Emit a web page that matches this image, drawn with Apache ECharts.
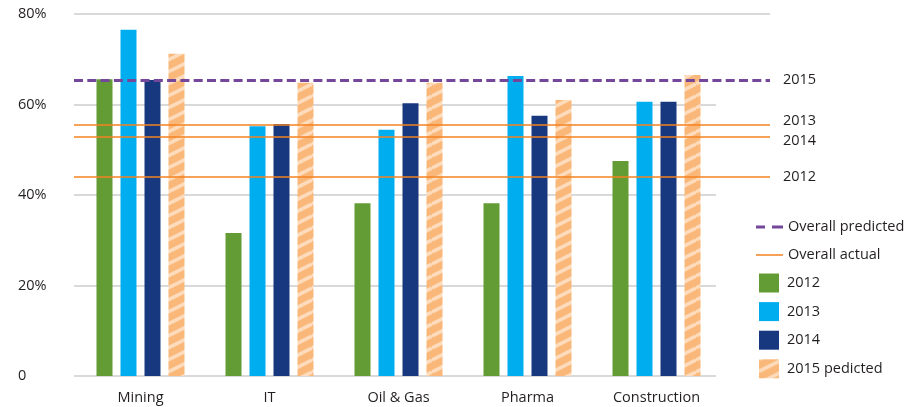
<!DOCTYPE html>
<html>
<head>
<meta charset="utf-8">
<script src="https://cdn.jsdelivr.net/npm/echarts@6/dist/echarts.min.js"></script>
<style>
  html, body { margin: 0; padding: 0; background: #ffffff; }
  #chart { width: 920px; height: 407px; }
</style>
</head>
<body>
<div id="chart"></div>
<script>
// Share of respondents by sector and year (percent)
const categories = ['Mining', 'IT', 'Oil & Gas', 'Pharma', 'Construction'];
const values2012 = [65.6, 31.6, 38.2, 38.2, 47.5];
const values2013 = [76.5, 55.2, 54.4, 66.3, 60.6];
const values2014 = [65.4, 55.7, 60.3, 57.5, 60.6];
const values2015Predicted = [71.2, 64.8, 64.8, 61.0, 66.5];

// Overall figures across all sectors
const overallActualYears = ['2012', '2013', '2014'];
const overallActualValues = [44.0, 55.5, 52.8];
const overallPredictedYears = ['2015'];
const overallPredictedValues = [65.4];

// Value axis
const yTicks = [0, 20, 40, 60, 80];
const yTickLabels = ['0', '20%', '40%', '60%', '80%'];

const FONT = 'Open Sans';
const FONT_SIZE = 14.5;
const TEXT = '#231f20';
const GRID_GREY = '#d9d9d9';
const PURPLE = '#74479b';
const ORANGE = '#f58220';

// Diagonal hatch used for the predicted bars
function hatchPattern() {
  const c = document.createElement('canvas');
  c.width = 24; c.height = 12;
  const g = c.getContext('2d');
  g.fillStyle = '#f9b879';
  g.fillRect(0, 0, 24, 12);
  g.strokeStyle = '#fddcbd';
  g.lineWidth = 3.6;
  [-12, 0, 12].forEach(dy => {
    g.beginPath();
    g.moveTo(0, 12 + dy);
    g.lineTo(24, dy);
    g.stroke();
  });
  return c;
}

const chart = echarts.init(document.getElementById('chart'));

const yRange = { min: yTicks[0], max: yTicks[yTicks.length - 1], interval: 20 };

// 2013 and 2014 sit close together, so their labels are pushed apart
const labelNudge = {
  '2013': { verticalAlign: 'bottom', lineHeight: 8 },
  '2014': { verticalAlign: 'top', lineHeight: 8 }
};

function overallMarks(years, values) {
  return years.map((y, i) => ({
    yAxis: values[i],
    name: y,
    label: labelNudge[y] || {}
  }));
}

const markLabel = {
  show: true,
  position: 'end',
  formatter: p => p.name,
  color: TEXT,
  fontFamily: FONT,
  fontSize: FONT_SIZE,
  distance: 13
};

const barBase = {
  type: 'bar',
  xAxisIndex: 1,
  yAxisIndex: 1,
  barWidth: 16,
  barGap: '50%',
  z: 3
};

const legendText = { color: TEXT, fontFamily: FONT, fontSize: FONT_SIZE };

chart.setOption({
  animation: false,
  textStyle: { fontFamily: FONT },
  grid: [
    { left: 74, right: 204, top: 14, bottom: 31 },   // gridlines + value labels
    { left: 76, width: 645, top: 14, bottom: 31 },   // bars
    { left: 74, right: 150, top: 14, bottom: 31 }    // overall reference lines
  ],
  legend: [
    {
      orient: 'vertical',
      left: 756,
      top: 219.5,
      padding: 0,
      itemWidth: 27,
      itemHeight: 19,
      itemGap: 13,
      textStyle: legendText,
      data: [
        { name: 'Overall predicted', icon: 'path://M0,0H9V3H0Z M16,0H27V3H16Z' },
        { name: 'Overall actual', icon: 'path://M0,0H27V1.5H0Z' }
      ]
    },
    {
      orient: 'vertical',
      left: 759,
      top: 273.5,
      padding: 0,
      icon: 'rect',
      itemWidth: 20,
      itemHeight: 19,
      itemGap: 9.6,
      textStyle: { ...legendText, padding: [0, 0, 0, 3] },
      data: ['2012', '2013', '2014', '2015 pedicted']
    }
  ],
  xAxis: [
    { type: 'value', gridIndex: 0, show: false, min: 0, max: 1 },
    {
      type: 'category',
      gridIndex: 1,
      data: categories,
      axisLine: { show: false },
      axisTick: { show: false },
      axisLabel: { color: TEXT, fontFamily: FONT, fontSize: FONT_SIZE, margin: 14 }
    },
    { type: 'value', gridIndex: 2, show: false, min: 0, max: 1 }
  ],
  yAxis: [
    {
      type: 'value',
      gridIndex: 0,
      ...yRange,
      axisLine: { show: false },
      axisTick: { show: false },
      splitLine: { lineStyle: { color: GRID_GREY, width: 2 } },
      axisLabel: {
        align: 'left',
        margin: 56,
        color: TEXT,
        fontFamily: FONT,
        fontSize: FONT_SIZE,
        formatter: v => yTickLabels[yTicks.indexOf(v)]
      }
    },
    { type: 'value', gridIndex: 1, ...yRange, show: false, splitLine: { show: false } },
    { type: 'value', gridIndex: 2, ...yRange, show: false, splitLine: { show: false } }
  ],
  series: [
    {
      name: 'top rule',
      type: 'line',
      xAxisIndex: 2, yAxisIndex: 2,
      data: [],
      z: 1,
      markLine: {
        silent: true,
        symbol: ['none', 'none'],
        label: { show: false },
        lineStyle: { color: GRID_GREY, width: 2, type: 'solid' },
        data: [{ yAxis: yTicks[yTicks.length - 1] }]
      }
    },
    {
      name: 'Overall predicted',
      type: 'line',
      xAxisIndex: 2, yAxisIndex: 2,
      data: [],
      symbol: 'none',
      color: PURPLE,
      itemStyle: { color: PURPLE },
      lineStyle: { color: PURPLE, width: 3, type: [9, 4.3] },
      z: 1,
      markLine: {
        silent: true,
        symbol: ['none', 'none'],
        label: markLabel,
        lineStyle: { color: PURPLE, width: 3, type: [9, 4.3] },
        data: overallMarks(overallPredictedYears, overallPredictedValues)
      }
    },
    {
      name: 'Overall actual',
      type: 'line',
      xAxisIndex: 2, yAxisIndex: 2,
      data: [],
      symbol: 'none',
      color: ORANGE,
      itemStyle: { color: ORANGE },
      lineStyle: { color: ORANGE, width: 1.5 },
      z: 1,
      markLine: {
        silent: true,
        symbol: ['none', 'none'],
        label: markLabel,
        lineStyle: { color: ORANGE, width: 1.5, type: 'solid' },
        data: overallMarks(overallActualYears, overallActualValues)
      }
    },
    { ...barBase, name: '2012', data: values2012, itemStyle: { color: '#639c35' } },
    { ...barBase, name: '2013', data: values2013, itemStyle: { color: '#00aeef' } },
    { ...barBase, name: '2014', data: values2014, itemStyle: { color: '#17387e' } },
    {
      ...barBase,
      name: '2015 pedicted',
      data: values2015Predicted,
      itemStyle: { color: { image: hatchPattern(), repeat: 'repeat' } }
    }
  ]
});
</script>
</body>
</html>
